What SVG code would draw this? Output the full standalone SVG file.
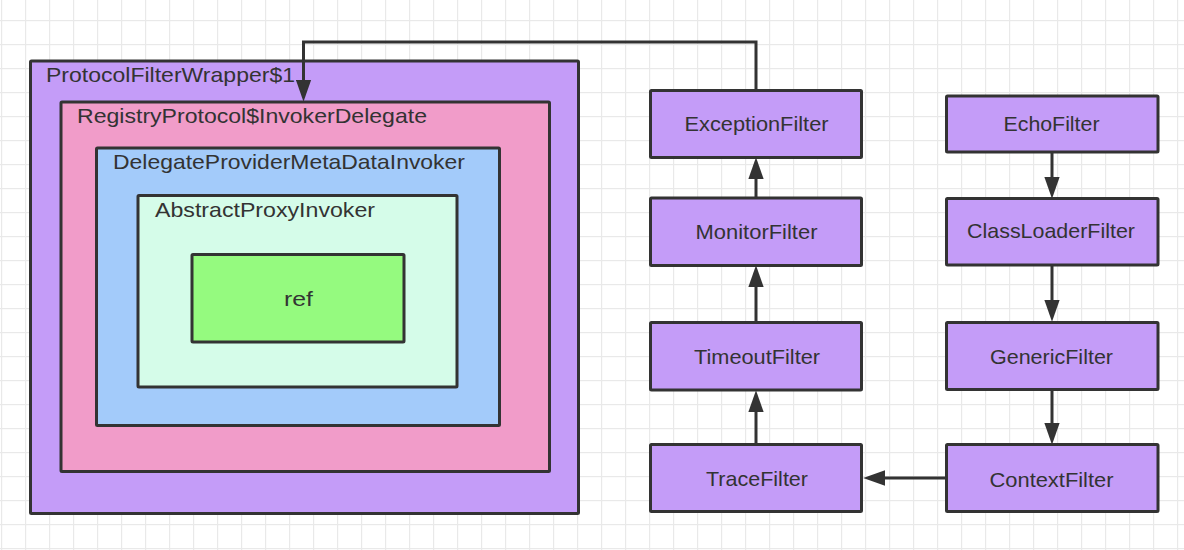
<svg xmlns="http://www.w3.org/2000/svg" width="1184" height="550" viewBox="0 0 1184 550">
<style>
  .box{stroke:#333;stroke-width:3;stroke-linejoin:round}
  .filter{fill:#c49cf8}
  .t{font-family:"Liberation Sans",Arial,sans-serif;font-size:21px;fill:#333}
  .c{text-anchor:middle}
  .edge{fill:none;stroke:#333;stroke-width:3;marker-end:url(#ah)}
</style>
<defs>
  <pattern id="grid" x="1" y="20" width="24" height="24" patternUnits="userSpaceOnUse">
    <rect x="0" y="0" width="1.2" height="24" fill="#e9e9e9"/>
    <rect x="0" y="0" width="24" height="1.2" fill="#e9e9e9"/>
  </pattern>
  <marker id="ah" markerUnits="userSpaceOnUse" markerWidth="22" markerHeight="16" viewBox="0 0 20 14" refX="2" refY="7" orient="auto">
    <path d="M0,0 L20,7 L0,14 Z" fill="#333"/>
  </marker>
</defs>
<rect width="1184" height="550" fill="#fff"/>
<rect width="1184" height="550" fill="url(#grid)"/>

<g id="protocolFilterWrapper">
  <rect class="box" x="30.5" y="61" width="548" height="452.5" fill="#c49cf8" rx="1"/>
  <text class="t" x="46" y="82" textLength="249" lengthAdjust="spacingAndGlyphs">ProtocolFilterWrapper$1</text>
</g>
<g id="registryProtocol">
  <rect class="box" x="61" y="102" width="488.5" height="369.5" fill="#f19cc9" rx="1"/>
  <text class="t" x="77" y="123" textLength="350" lengthAdjust="spacingAndGlyphs">RegistryProtocol$InvokerDelegate</text>
</g>
<g id="delegateProvider">
  <rect class="box" x="96.5" y="148" width="403" height="277.5" fill="#a3cbfa" rx="1"/>
  <text class="t" x="113" y="169" textLength="352" lengthAdjust="spacingAndGlyphs">DelegateProviderMetaDataInvoker</text>
</g>
<g id="abstractProxyInvoker">
  <rect class="box" x="138" y="195.5" width="319" height="191.5" fill="#d5fce9" rx="1"/>
  <text class="t" x="155" y="217" textLength="220" lengthAdjust="spacingAndGlyphs">AbstractProxyInvoker</text>
</g>
<g id="ref">
  <rect class="box" x="192" y="254.5" width="212" height="87.5" fill="#95fa7f" rx="1"/>
  <text class="t c" x="298.5" y="306" textLength="29" lengthAdjust="spacingAndGlyphs">ref</text>
</g>

<g id="exceptionFilter">
  <rect class="box filter" x="650.5" y="90.5" width="211" height="67" rx="1"/>
  <text class="t c" x="756.5" y="130.5" textLength="144" lengthAdjust="spacingAndGlyphs">ExceptionFilter</text>
</g>
<g id="monitorFilter">
  <rect class="box filter" x="650.5" y="198" width="211" height="67.5" rx="1"/>
  <text class="t c" x="756.5" y="238.5" textLength="122" lengthAdjust="spacingAndGlyphs">MonitorFilter</text>
</g>
<g id="timeoutFilter">
  <rect class="box filter" x="650.5" y="322.5" width="211" height="67.5" rx="1"/>
  <text class="t c" x="757" y="364" textLength="126" lengthAdjust="spacingAndGlyphs">TimeoutFilter</text>
</g>
<g id="traceFilter">
  <rect class="box filter" x="650.5" y="444.5" width="211" height="67" rx="1"/>
  <text class="t c" x="757" y="486" textLength="102" lengthAdjust="spacingAndGlyphs">TraceFilter</text>
</g>
<g id="echoFilter">
  <rect class="box filter" x="946.5" y="96" width="211.5" height="56" rx="1"/>
  <text class="t c" x="1051.5" y="130.5" textLength="96" lengthAdjust="spacingAndGlyphs">EchoFilter</text>
</g>
<g id="classLoaderFilter">
  <rect class="box filter" x="946.5" y="198.5" width="211.5" height="66.5" rx="1"/>
  <text class="t c" x="1051" y="238" textLength="168" lengthAdjust="spacingAndGlyphs">ClassLoaderFilter</text>
</g>
<g id="genericFilter">
  <rect class="box filter" x="946.5" y="322.5" width="211.5" height="67" rx="1"/>
  <text class="t c" x="1051.5" y="364" textLength="123" lengthAdjust="spacingAndGlyphs">GenericFilter</text>
</g>
<g id="contextFilter">
  <rect class="box filter" x="946.5" y="444.5" width="211.5" height="67" rx="1"/>
  <text class="t c" x="1051.5" y="486.5" textLength="124" lengthAdjust="spacingAndGlyphs">ContextFilter</text>
</g>

<g id="connectors">
  <path class="edge" d="M756,90 V42 H303.5 V82"/>
  <path class="edge" d="M756,197 V177"/>
  <path class="edge" d="M756,321 V285"/>
  <path class="edge" d="M756,443 V410"/>
  <path class="edge" d="M1052,153 V179"/>
  <path class="edge" d="M1052,266 V302"/>
  <path class="edge" d="M1052,391 V425"/>
  <path class="edge" d="M945,478 H883"/>
</g>
</svg>
